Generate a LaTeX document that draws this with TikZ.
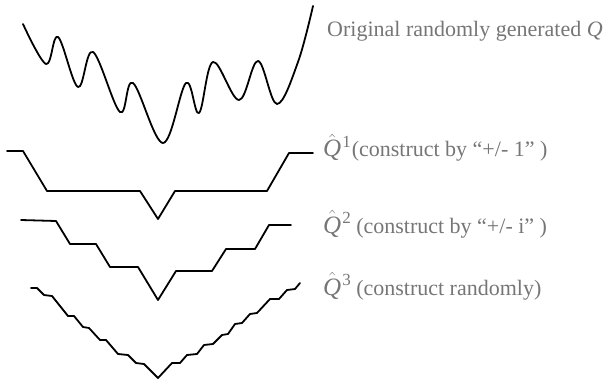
\documentclass[tikz,border=0pt]{standalone}
\usepackage{fontspec}
\setmainfont{Liberation Serif}
\definecolor{txtgray}{RGB}{118,118,118}
\newcommand{\qhat}[1]{{\fontsize{25}{26}\selectfont$\hat{\mbox{\itshape Q}}$}\hspace{1pt}\raisebox{0.45em}{\fontsize{17}{17}\selectfont #1}}
\begin{document}
\begin{tikzpicture}[x=1pt,y=-1pt,
  curve/.style={line width=1.8pt,black,line join=round,line cap=round},
  lbl/.style={anchor=base west,inner sep=0pt,text=txtgray,font=\fontsize{22}{26}\selectfont}]
\useasboundingbox (0,0) rectangle (613,385);
% original curve
\draw[curve] plot[smooth,tension=0.6] coordinates {(23,24) (46,64) (58,37) (78,87) (93,52) (120,112) (133,83) (163,143) (186,83) (199,113) (213,62) (239,100) (258,61) (277,104) (298,62) (313,6)};
% Q1
\draw[curve] (7,151) -- (23,151) -- (47,191) -- (140,191) -- (158,219) -- (175,191) -- (267,191) -- (289,153) -- (313,153);
% Q2
\draw[curve] (21,220) -- (56,221) -- (70,244) -- (96,244) -- (110,267) -- (138,267) -- (158,300) -- (176,271) -- (212,271) -- (226,249) -- (255,249) -- (269,225) -- (291,225);
% Q3
\draw[curve] (31,288) -- (37,288) -- (44,295) -- (52,296) -- (68,316) -- (74,316) -- (83,327) -- (89,328) -- (100,340) -- (106,340) -- (118,354) -- (128,355) -- (136,363) -- (144,364) -- (158,378) -- (172,363) -- (180,363) -- (187,355) -- (197,354) -- (204,345) -- (213,344) -- (222,335) -- (228,334) -- (235,324) -- (242,323) -- (250,314) -- (257,313) -- (270,299) -- (279,299) -- (287,290) -- (295,289) -- (300,283);
% labels
\node[lbl] (t0) at (327,37) {Original randomly generated \textit{Q}};
\node[lbl] (t1) at (323,157) {\qhat{1}\hspace{1pt}(construct by “+/- 1” )};
\node[lbl] (t2) at (323,233) {\qhat{2} (construct by “+/- i” )};
\node[lbl] (t3) at (323,295) {\qhat{3} (construct randomly)};
\end{tikzpicture}
\end{document}
